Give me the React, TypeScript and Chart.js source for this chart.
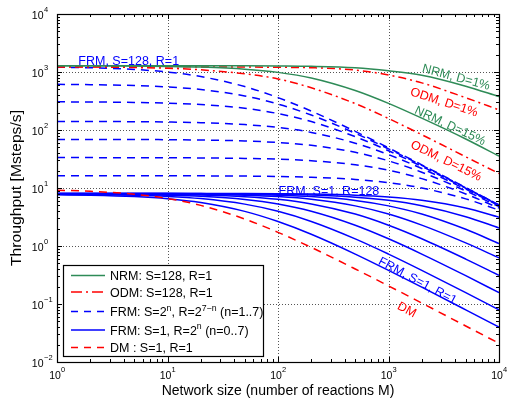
import React, { useEffect, useRef } from 'react';
import { Chart, registerables } from 'chart.js';

Chart.register(...registerables);

// Network size M (x axis)
const M = [1, 2, 5, 10, 20, 50, 100, 200, 500, 1000, 2000, 5000, 10000];

// NRM, S=128, R=1
const nrmD1 = [1285, 1285, 1285, 1284, 1283, 1280, 1272, 1255, 1185, 1052, 880, 570, 376];
const nrmD15 = [1282, 1278, 1268, 1250, 1215, 1120, 985, 790, 480, 288, 160, 70, 35.5];
// ODM, S=128, R=1
const odmD1 = [1230, 1230, 1229, 1228, 1225, 1218, 1205, 1185, 1080, 887, 650, 360, 222];
const odmD15 = [1225, 1218, 1195, 1160, 1090, 930, 760, 535, 285, 158, 83, 34.5, 17.8];

// FRM, S=2^n, R=2^(7-n), n=7..1
const frmS128R1 = [1211, 1183, 1107, 999, 835, 561, 362, 212, 94.6, 49.2, 25.1, 10.2, 5.1];
const frmS64R2 = [613, 605, 585, 553, 499, 386, 280, 181, 87.9, 47.3, 24.6, 10.1, 5.08];
const frmS32R4 = [306, 304, 299, 291, 275, 237, 192, 140, 76.8, 43.9, 23.6, 9.9, 5.04];
const frmS16R8 = [140.7, 140.3, 139.1, 137.3, 133.7, 124, 110.6, 90.9, 59.3, 37.6, 21.7, 9.55, 4.94];
const frmS8R16 = [68.9, 68.8, 68.6, 68.1, 67.2, 64.7, 60.8, 54.4, 41.2, 29.4, 18.7, 8.92, 4.77];
const frmS4R32 = [33.4, 33.4, 33.3, 33.2, 33.0, 32.3, 31.4, 29.5, 25.2, 20.2, 14.5, 7.9, 4.5];
const frmS2R64 = [16.3, 16.3, 16.27, 16.25, 16.2, 16.04, 15.8, 15.32, 14.06, 12.36, 10.0, 6.5, 4.15];

// FRM, S=1, R=2^n, n=0..7
const frmS1R1 = [7.65, 7.51, 7.11, 6.53, 5.61, 3.95, 2.64, 1.592, 0.726, 0.38, 0.195, 0.0792, 0.0398];
const frmS1R2 = [7.77, 7.7, 7.48, 7.15, 6.56, 5.27, 3.96, 2.65, 1.329, 0.726, 0.381, 0.157, 0.0792];
const frmS1R4 = [7.86, 7.82, 7.71, 7.53, 7.19, 6.34, 5.29, 3.97, 2.28, 1.331, 0.726, 0.308, 0.157];
const frmS1R8 = [7.93, 7.91, 7.85, 7.76, 7.57, 7.07, 6.37, 5.31, 3.55, 2.28, 1.332, 0.595, 0.312];
const frmS1R16 = [7.99, 7.98, 7.95, 7.9, 7.8, 7.53, 7.11, 6.4, 4.92, 3.56, 2.29, 1.13, 0.625];
const frmS1R32 = [7.99, 7.99, 7.98, 7.95, 7.9, 7.76, 7.53, 7.11, 6.1, 4.92, 3.56, 1.94, 1.1];
const frmS1R64 = [8.05, 8.05, 8.04, 8.03, 8.0, 7.93, 7.81, 7.58, 6.96, 6.13, 4.94, 3.2, 2.05];
const frmS1R128 = [8.1, 8.1, 8.09, 8.09, 8.07, 8.04, 7.97, 7.85, 7.51, 6.99, 6.15, 4.52, 3.14];

// DM, S=1, R=1
const dm = [9.17, 8.79, 7.81, 6.59, 5.02, 2.92, 1.72, 0.947, 0.402, 0.2055, 0.1039, 0.0418, 0.021];

// Axis ticks
const X_TICKS = [1, 10, 100, 1000, 10000];
const X_TICK_EXP = ['0', '1', '2', '3', '4'];
const Y_TICKS = [0.01, 0.1, 1, 10, 100, 1000, 10000];
const Y_TICK_EXP = ['\u22122', '\u22121', '0', '1', '2', '3', '4'];

const GREEN = '#2E8B57';
const RED = '#FF0000';
const BLUE = '#0000FF';
const FONT = '"Liberation Sans", Arial, Helvetica, sans-serif';

// In-plot annotations: text, M, throughput, angle (deg), colour, align
const ANNOTATIONS = [
  { text: 'FRM, S=128, R=1', m: 1.56, t: 1500, angle: 0, color: BLUE, align: 'left' },
  { text: 'FRM, S=1, R=128', m: 289, t: 8.63, angle: 0, color: BLUE, align: 'center' },
  { text: 'NRM, D=1%', m: 4083, t: 803, angle: 15, color: GREEN, align: 'center' },
  { text: 'ODM, D=1%', m: 3177, t: 298, angle: 18, color: RED, align: 'center' },
  { text: 'NRM, D=15%', m: 3603, t: 117, angle: 25, color: GREEN, align: 'center' },
  { text: 'ODM, D=15%', m: 3314, t: 29.2, angle: 26, color: RED, align: 'center' },
  { text: 'FRM, S=1, R=1', m: 1830, t: 0.249, angle: 28, color: BLUE, align: 'center' },
  { text: 'DM', m: 1461, t: 0.0789, angle: 28, color: RED, align: 'center' },
];

type Part = { t: string; sup?: boolean };

const LEGEND_ROWS: { parts: Part[]; color: string; dash: number[] }[] = [
  { parts: [{ t: 'NRM: S=128, R=1' }], color: GREEN, dash: [] },
  { parts: [{ t: 'ODM: S=128, R=1' }], color: RED, dash: [11, 4, 2, 4] },
  {
    parts: [{ t: 'FRM: S=2' }, { t: 'n', sup: true }, { t: ', R=2' }, { t: '7\u2212n', sup: true }, { t: ' (n=1..7)' }],
    color: BLUE,
    dash: [7, 6],
  },
  { parts: [{ t: 'FRM: S=1, R=2' }, { t: 'n', sup: true }, { t: ' (n=0..7)' }], color: BLUE, dash: [] },
  { parts: [{ t: 'DM : S=1, R=1' }], color: RED, dash: [7, 6] },
];

function drawRich(ctx: CanvasRenderingContext2D, parts: Part[], x: number, y: number, size: number, supSize: number, rise: number) {
  let cx = x;
  ctx.textAlign = 'left';
  ctx.textBaseline = 'middle';
  for (const p of parts) {
    ctx.font = `${p.sup ? supSize : size}px ${FONT}`;
    ctx.fillText(p.t, cx, p.sup ? y - rise : y);
    cx += ctx.measureText(p.t).width;
  }
}

const overlay = {
  id: 'overlay',
  beforeDatasetsDraw(chart: any) {
    const { ctx, chartArea: a, scales } = chart;
    const xs = scales.x;
    const ys = scales.y;
    ctx.save();
    ctx.strokeStyle = '#555';
    ctx.lineWidth = 1;
    ctx.setLineDash([1, 2]);
    for (const v of X_TICKS.slice(1, -1)) {
      const px = Math.round(xs.getPixelForValue(v)) + 0.5;
      ctx.beginPath();
      ctx.moveTo(px, a.top);
      ctx.lineTo(px, a.bottom);
      ctx.stroke();
    }
    for (const v of Y_TICKS.slice(1, -1)) {
      const py = Math.round(ys.getPixelForValue(v)) + 0.5;
      ctx.beginPath();
      ctx.moveTo(a.left, py);
      ctx.lineTo(a.right, py);
      ctx.stroke();
    }
    ctx.restore();
  },
  afterDatasetsDraw(chart: any) {
    const { ctx, chartArea: a, scales } = chart;
    const xs = scales.x;
    const ys = scales.y;
    ctx.save();
    ctx.setLineDash([]);
    ctx.strokeStyle = '#000';
    ctx.lineWidth = 1;

    // minor + major ticks on all four sides
    ctx.beginPath();
    for (let e = 0; e < 4; e++) {
      for (let k = 1; k <= 10; k++) {
        const v = k * Math.pow(10, e);
        const len = k === 1 || k === 10 ? 5 : 3;
        const px = Math.round(xs.getPixelForValue(v)) + 0.5;
        ctx.moveTo(px, a.bottom);
        ctx.lineTo(px, a.bottom - len);
        ctx.moveTo(px, a.top);
        ctx.lineTo(px, a.top + len);
      }
    }
    for (let e = -2; e < 4; e++) {
      for (let k = 1; k <= 10; k++) {
        const v = k * Math.pow(10, e);
        const len = k === 1 || k === 10 ? 5 : 3;
        const py = Math.round(ys.getPixelForValue(v)) + 0.5;
        ctx.moveTo(a.left, py);
        ctx.lineTo(a.left + len, py);
        ctx.moveTo(a.right, py);
        ctx.lineTo(a.right - len, py);
      }
    }
    ctx.stroke();

    // frame
    ctx.lineWidth = 1.2;
    ctx.strokeRect(Math.round(a.left) + 0.5, Math.round(a.top) + 0.5, Math.round(a.right - a.left), Math.round(a.bottom - a.top));

    // tick labels
    ctx.fillStyle = '#000';
    X_TICKS.forEach((v, i) => {
      const px = xs.getPixelForValue(v);
      ctx.font = `10.5px ${FONT}`;
      ctx.textAlign = 'center';
      ctx.textBaseline = 'middle';
      ctx.fillText('10', px - 2, a.bottom + 14);
      ctx.font = `7.5px ${FONT}`;
      ctx.textAlign = 'left';
      ctx.fillText(X_TICK_EXP[i], px + 4, a.bottom + 8);
    });
    Y_TICKS.forEach((v, i) => {
      const py = ys.getPixelForValue(v);
      ctx.font = `10.5px ${FONT}`;
      ctx.textAlign = 'right';
      ctx.textBaseline = 'middle';
      ctx.fillText('10', a.left - 13.5, py + 2);
      ctx.font = `7.5px ${FONT}`;
      ctx.textAlign = 'left';
      ctx.fillText(Y_TICK_EXP[i], a.left - 13, py - 4);
    });

    // axis titles
    ctx.font = `14px ${FONT}`;
    ctx.textAlign = 'center';
    ctx.textBaseline = 'middle';
    ctx.fillText('Network size (number of reactions M)', (a.left + a.right) / 2, a.bottom + 29);
    ctx.save();
    ctx.translate(17, (a.top + a.bottom) / 2);
    ctx.rotate(-Math.PI / 2);
    const yTitle = 'Throughput [Msteps/s]';
    const w = ctx.measureText(yTitle).width;
    ctx.scale(156 / w, 1);
    ctx.fillText(yTitle, 0, 0);
    ctx.restore();

    // annotations
    ctx.font = `12.5px ${FONT}`;
    for (const an of ANNOTATIONS) {
      const px = xs.getPixelForValue(an.m);
      const py = ys.getPixelForValue(an.t);
      ctx.save();
      ctx.translate(px, py);
      ctx.rotate((an.angle * Math.PI) / 180);
      ctx.fillStyle = an.color;
      ctx.textAlign = an.align as CanvasTextAlign;
      ctx.textBaseline = 'middle';
      ctx.fillText(an.text, 0, 0);
      ctx.restore();
    }

    // legend box
    const lx = 63.5;
    const ly = 265.5;
    const lw = 200;
    const lh = 91;
    ctx.fillStyle = '#fff';
    ctx.fillRect(lx, ly, lw, lh);
    ctx.lineWidth = 1.2;
    ctx.strokeStyle = '#000';
    ctx.strokeRect(lx, ly, lw, lh);
    const textY = [277, 293.5, 313, 331.5, 349];
    LEGEND_ROWS.forEach((row, i) => {
      const y = textY[i] - 1.5;
      ctx.strokeStyle = row.color;
      ctx.lineWidth = 1.5;
      ctx.setLineDash(row.dash);
      ctx.beginPath();
      ctx.moveTo(71, y);
      ctx.lineTo(105, y);
      ctx.stroke();
      ctx.setLineDash([]);
      ctx.fillStyle = '#000';
      drawRich(ctx, row.parts, 110, textY[i], 12.5, 8.75, 4.5);
    });
    ctx.restore();
  },
};

function series(values: number[], color: string, dash: number[], width = 1.5) {
  return {
    data: values.map((v, i) => ({ x: M[i], y: v })),
    borderColor: color,
    backgroundColor: color,
    borderDash: dash,
    borderWidth: width,
    pointRadius: 0,
    fill: false,
    cubicInterpolationMode: 'monotone' as const,
  };
}

export default function App() {
  const ref = useRef<HTMLCanvasElement | null>(null);
  useEffect(() => {
    if (!ref.current) return;
    const dashed = [8, 6];
    const dashDot = [8, 4, 2, 4];
    const datasets = [
      series(nrmD1, GREEN, []),
      series(nrmD15, GREEN, []),
      series(odmD1, RED, dashDot),
      series(odmD15, RED, dashDot),
      series(frmS128R1, BLUE, dashed),
      series(frmS64R2, BLUE, dashed),
      series(frmS32R4, BLUE, dashed),
      series(frmS16R8, BLUE, dashed),
      series(frmS8R16, BLUE, dashed),
      series(frmS4R32, BLUE, dashed),
      series(frmS2R64, BLUE, dashed),
      series(dm, RED, dashed),
      series(frmS1R1, BLUE, []),
      series(frmS1R2, BLUE, []),
      series(frmS1R4, BLUE, []),
      series(frmS1R8, BLUE, []),
      series(frmS1R16, BLUE, []),
      series(frmS1R32, BLUE, []),
      series(frmS1R64, BLUE, []),
      series(frmS1R128, BLUE, []),
    ];
    const chart = new Chart(ref.current, {
      type: 'line',
      data: { datasets } as any,
      options: {
        animation: false,
        responsive: false,
        maintainAspectRatio: false,
        events: [],
        layout: { padding: { left: 57, top: 14, right: 8, bottom: 41 } },
        plugins: { legend: { display: false }, tooltip: { enabled: false } },
        scales: {
          x: { type: 'logarithmic', min: 1, max: 10000, display: false },
          y: { type: 'logarithmic', min: 0.01, max: 10000, display: false },
        },
      } as any,
      plugins: [overlay],
    });
    return () => chart.destroy();
  }, []);
  return (
    <div style={{ position: 'absolute', left: 0, top: 0, width: 507, height: 403, background: '#fff' }}>
      <canvas ref={ref} width={507} height={403} style={{ display: 'block' }} />
    </div>
  );
}
